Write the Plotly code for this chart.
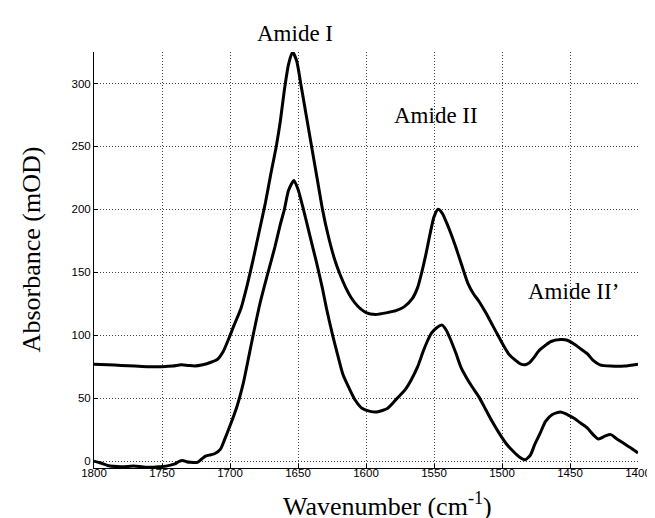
import plotly.graph_objects as go

# Upper spectrum
upper_wn = [1800, 1790, 1780, 1770, 1760, 1750, 1742, 1736, 1731, 1726, 1720, 1714, 1709, 1705, 1701,
            1697, 1692, 1688, 1683, 1678, 1674, 1670, 1666, 1663, 1660, 1657, 1654, 1651, 1648, 1644,
            1640, 1636, 1632, 1628, 1623, 1619, 1615, 1611, 1606, 1600, 1593, 1584, 1578, 1572, 1566,
            1562, 1559, 1556, 1553, 1550, 1547, 1544, 1541, 1538, 1534, 1530, 1525, 1521, 1517, 1512,
            1507, 1503, 1499, 1495, 1490, 1486, 1483, 1480, 1476, 1473, 1468, 1464, 1457, 1452, 1447,
            1442, 1437, 1433, 1428, 1420, 1410, 1400]
upper_abs = [77, 76.5, 76, 75.5, 75, 75, 75.5, 76.5, 76, 75.5, 76.5, 78.5, 81, 87, 97,
             108, 121, 137, 160, 185, 205, 228, 250, 270, 295, 315, 325, 318, 300, 275,
             250, 225, 200, 180, 160, 148, 138, 130, 123, 118, 116.5, 118, 119.5, 122.5, 129,
             138, 150, 164, 180, 194, 200, 197, 190, 182, 170, 157, 141, 133, 127, 118,
             108, 100, 92, 85, 80, 77, 76.5, 78, 83, 87.5, 92, 95, 96.5, 96, 93,
             89, 85, 80, 76.5, 75.5, 75.5, 77]

# Lower spectrum
lower_wn = [1800, 1795, 1790, 1780, 1771, 1765, 1759, 1752, 1747, 1743, 1740, 1737, 1735, 1732, 1729,
            1724, 1721, 1718, 1714, 1711, 1707, 1704, 1700, 1695, 1690, 1686, 1683, 1678, 1672, 1667,
            1663, 1660, 1657, 1653, 1650, 1646, 1641, 1636, 1632, 1629, 1625, 1621, 1617, 1612, 1608,
            1603, 1597, 1592, 1584, 1577, 1571, 1567, 1562, 1558, 1555, 1552, 1548, 1544, 1541, 1538,
            1534, 1530, 1526, 1522, 1517, 1512, 1507, 1502, 1497, 1492, 1487, 1483, 1479, 1476, 1472,
            1468, 1463, 1457, 1452, 1447, 1442, 1437, 1433, 1429, 1424, 1420, 1416, 1411, 1406, 1400]
lower_abs = [0, -1.5, -3.5, -4.5, -4, -4.5, -5, -4.5, -4, -3, -2, 0, 0.5, -0.5, -1,
             -1, 1.5, 4, 5, 6, 9.5, 17, 28, 43, 63, 84, 100, 125, 150, 170,
             188, 200, 215, 223, 216, 200, 178, 156, 137, 121, 102, 85, 69, 57, 48.5,
             42, 39.5, 39, 42, 50, 57, 64, 75, 87, 95, 101.5, 106, 108, 104, 97,
             86, 74, 66, 59, 51, 41, 31, 22, 14, 8, 3, 1, 5, 13, 22,
             31.5, 37, 39, 37, 34, 30, 26, 21, 17.5, 20, 21, 18, 14.5, 11, 6.5]

x_ticks = [1800, 1750, 1700, 1650, 1600, 1550, 1500, 1450, 1400]
y_ticks = [0, 50, 100, 150, 200, 250, 300]

W, H = 655, 518
L, R, T, B = 86, 13, 44, 58
PW, PH = W - L - R, H - T - B


def px(xp):
    return (xp - L) / PW


def py(yp):
    return 1 - (yp - T) / PH


fig = go.Figure()
for wn, ab in [(upper_wn, upper_abs), (lower_wn, lower_abs)]:
    fig.add_trace(go.Scatter(x=wn, y=ab, mode="lines",
                             line=dict(color="black", width=3, shape="spline", smoothing=0.6),
                             showlegend=False, hoverinfo="skip"))

serif = "Liberation Serif, Times New Roman, serif"
# peak labels (pixel positions of their centres)
labels = ["Amide I", "Amide II", "Amide II\u2019"]
label_px = [(291, 25), (436, 107), (576, 283)]
for t, (xp, yp) in zip(labels, label_px):
    fig.add_annotation(x=px(xp), y=py(yp), xref="paper", yref="paper", text=t, showarrow=False,
                       font=dict(family=serif, size=23, color="black"),
                       xanchor="center", yanchor="middle")

fig.add_annotation(x=px(386), y=py(515), xref="paper", yref="paper",
                   text="Wavenumber (cm<sup>-1</sup>)",
                   showarrow=False, font=dict(family=serif, size=26, color="black"),
                   xanchor="center", yanchor="bottom")
fig.add_annotation(x=px(22), y=py(241), xref="paper", yref="paper", text="Absorbance (mOD)",
                   showarrow=False, textangle=-90, font=dict(family=serif, size=26, color="black"),
                   xanchor="center", yanchor="middle")

fig.update_layout(
    width=W, height=H,
    margin=dict(l=L, r=R, t=T, b=B),
    paper_bgcolor="white", plot_bgcolor="white",
    font=dict(family="Liberation Sans, Arial, sans-serif", size=11.5, color="black"),
)
common = dict(ticks="inside", ticklen=4, tickcolor="black", showline=True, linecolor="black",
              linewidth=1, showgrid=True, gridcolor="#444444", gridwidth=1, griddash="1px,2px",
              zeroline=False, mirror=False, tickfont=dict(size=11.5))
fig.update_xaxes(range=[1800, 1400], tickvals=x_ticks, ticklabelstandoff=-6, **common)
fig.update_yaxes(range=[-5.5, 325], tickvals=y_ticks, **common)

fig.write_html("out.html")
